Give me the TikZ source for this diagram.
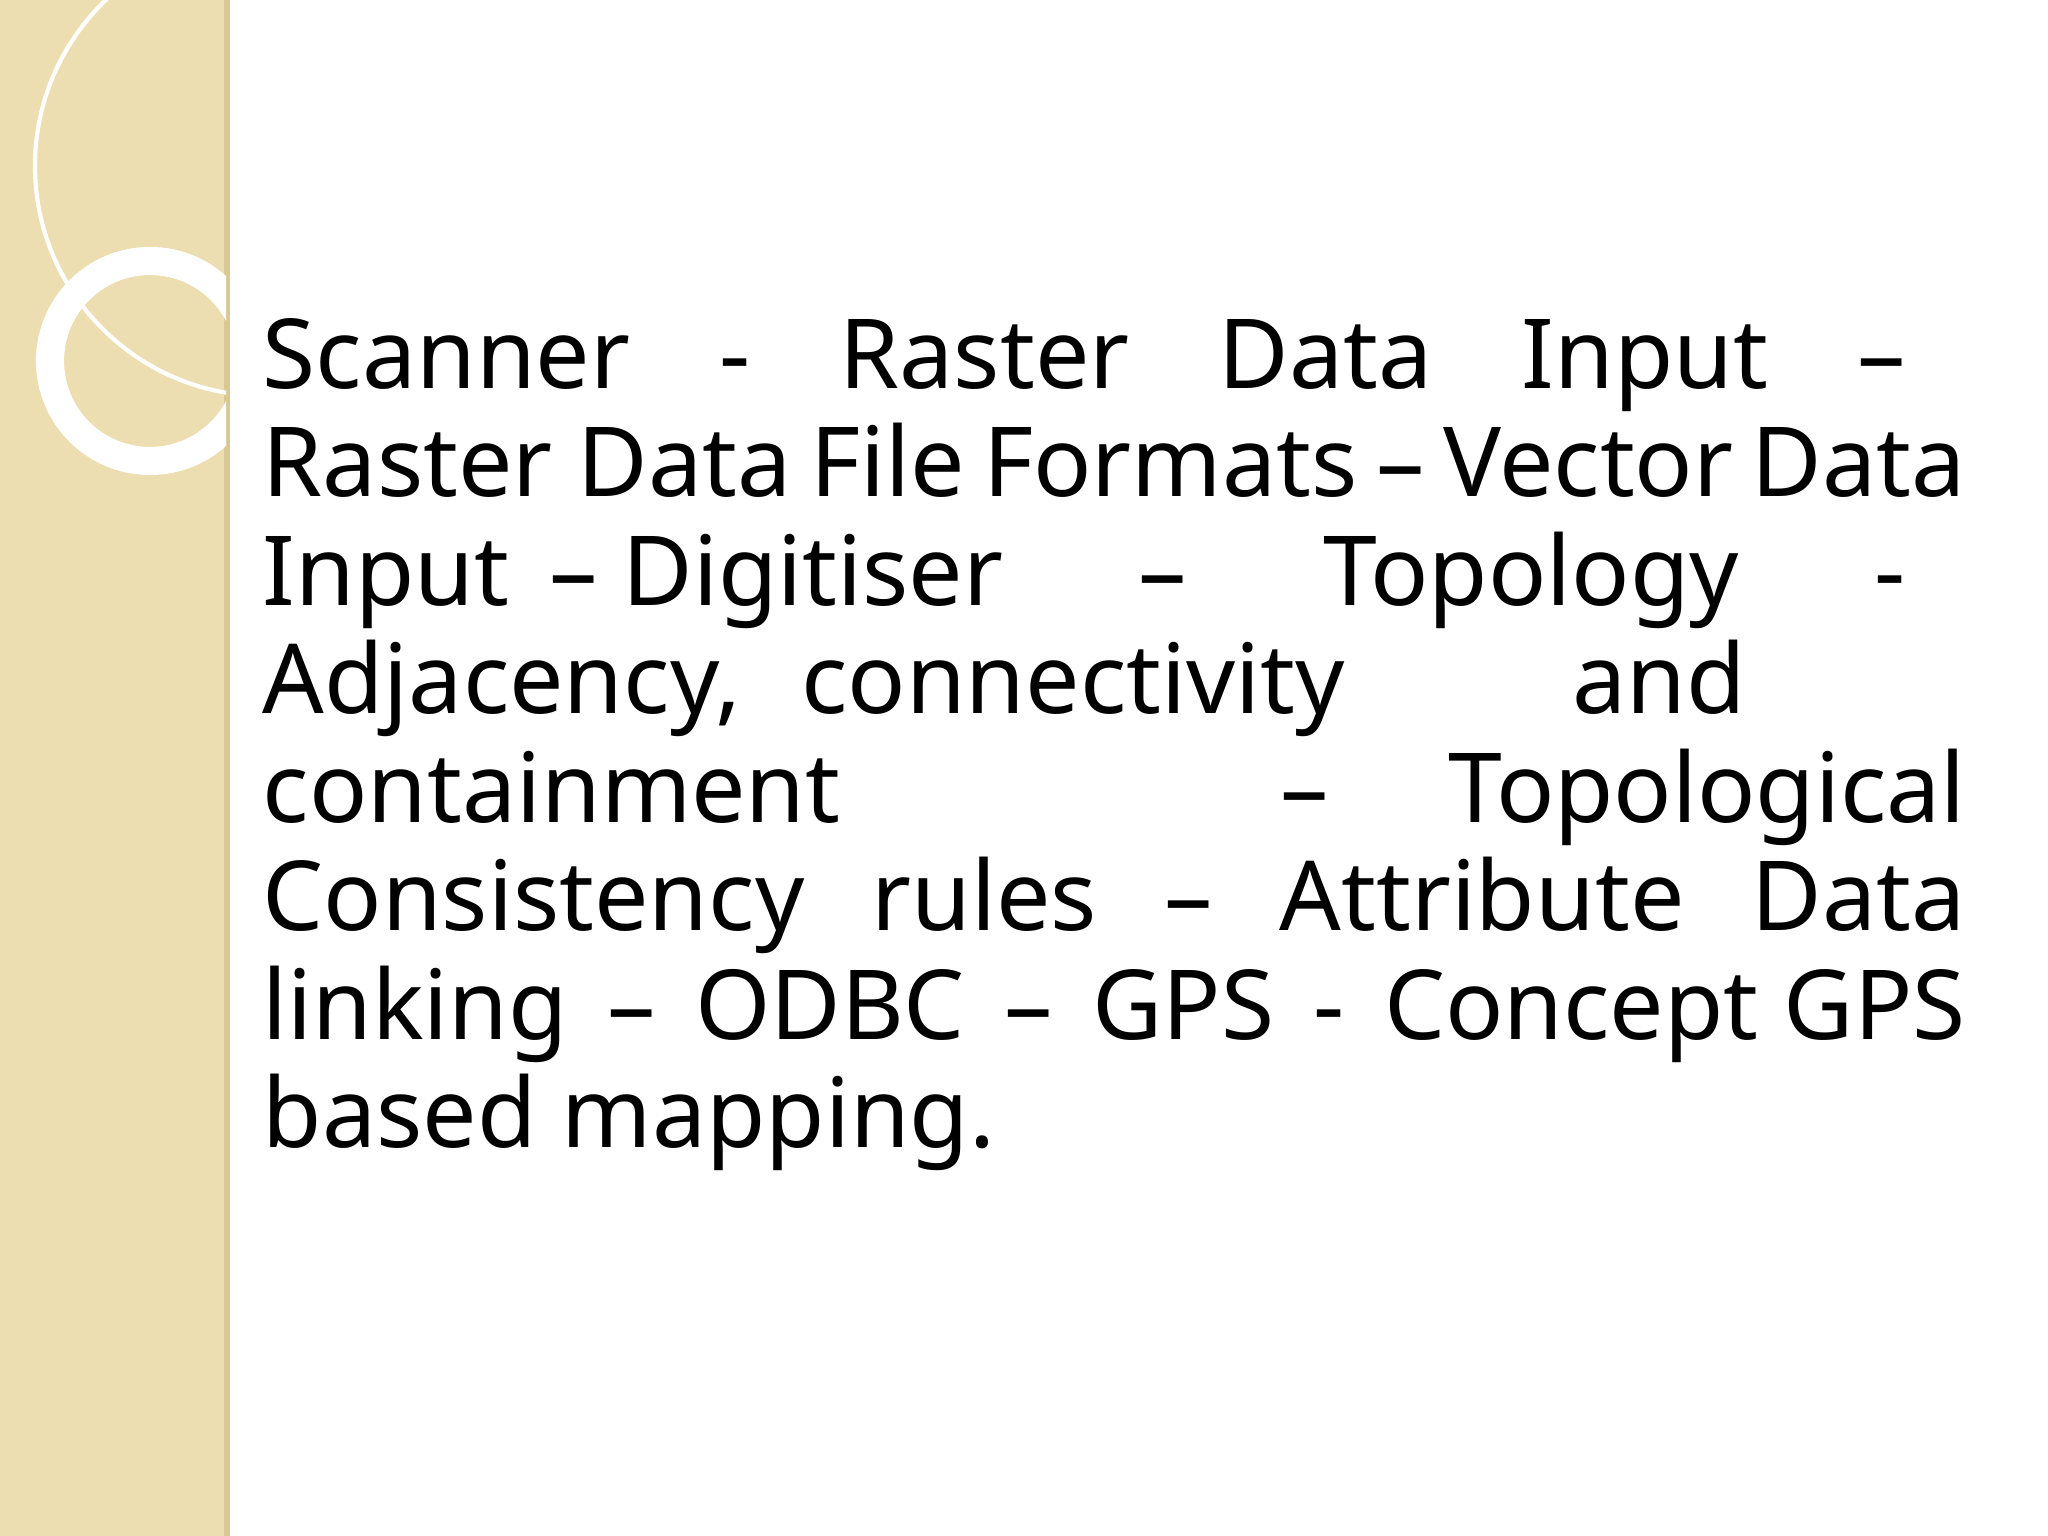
\documentclass[tikz,border=0pt]{standalone}
\usepackage{fontspec}
\setmainfont{Noto Sans}
\begin{document}
\begin{tikzpicture}
\useasboundingbox (0,0) rectangle (20.48,15.36);
\fill[white] (0,0) rectangle (20.48,15.36);
\fill[color={rgb,255:red,236;green,222;blue,176}] (0,0) rectangle (2.26,15.36);
\draw[color={rgb,255:red,215;green,200;blue,150},line width=1.5pt] (2.27,0) -- (2.27,15.36);
\begin{scope}
\clip (0,0) rectangle (2.26,15.36);
\draw[white,line width=1.2pt] (2.65,13.7) circle (2.3);
\draw[white,line width=8pt] (1.5,11.75) circle (1.0);
\end{scope}
\tikzset{ln/.style={anchor=base west,inner sep=0pt,font=\fontsize{27.5}{36}\selectfont}}
\def\W{17.03cm}
\node[ln] (l1) at (2.62,11.47) {\hbox to \W{Scanner\hfill-\hfill Raster\hfill Data\hfill Input\hfill –\hspace*{0.6cm}}};
\node[ln] (l2) at (2.62,10.39) {\hbox to \W{Raster Data\hfill File\hfill Formats\hfill –\hfill Vector\hfill Data}};
\node[ln] (l3) at (2.62,9.30) {\hbox to \W{Input\hspace{0.4cm}– Digitiser\hfill –\hfill Topology\hfill -\hspace*{0.6cm}}};
\node[ln] (l4) at (2.62,8.22) {\hbox to \W{Adjacency,\hspace{0.6cm}connectivity\hfill and\hspace*{2.2cm}}};
\node[ln] (l5) at (2.62,7.13) {\hbox to \W{containment\hfill –\hspace{1.2cm}Topological}};
\node[ln] (l6) at (2.62,6.05) {\hbox to \W{Consistency\hfill rules\hfill –\hfill Attribute\hfill Data}};
\node[ln] (l7) at (2.62,4.96) {\hbox to \W{linking\hfill –\hfill ODBC\hfill –\hfill GPS\hfill -\hfill Concept GPS}};
\node[ln] (l8) at (2.62,3.88) {based mapping.};
\end{tikzpicture}
\end{document}
